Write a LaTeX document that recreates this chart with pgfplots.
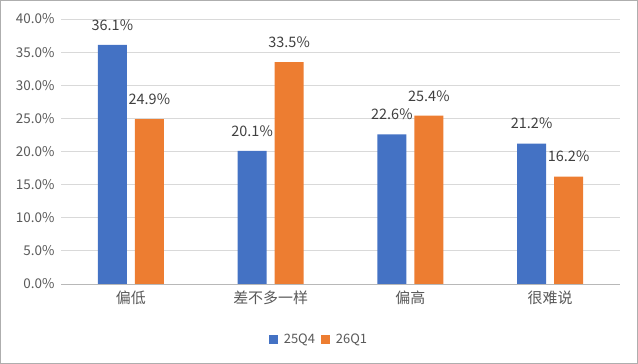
\documentclass[border=0pt]{standalone}
\usepackage{pgfplots}
\pgfplotsset{compat=1.18}
\usepackage{fontspec}
\setmainfont{Noto Sans CJK SC}
\definecolor{cblue}{HTML}{4472C4}
\definecolor{corange}{HTML}{ED7D31}
\definecolor{cgrid}{HTML}{D9D9D9}
\definecolor{ctext}{HTML}{595959}
\definecolor{clabel}{HTML}{404040}
\begin{document}
\begin{tikzpicture}
\path[use as bounding box] (0,0) rectangle (638bp,364bp);
\draw[color=cgrid!80!black, line width=0.8bp] (0.5bp,0.5bp) rectangle (637.5bp,363.5bp);
\begin{axis}[
  at={(61bp,80bp)}, anchor=south west,
  scale only axis, width=559bp, height=265bp,
  xmin=-0.5, xmax=3.5, ymin=0, ymax=40,
  xtick={0,1,2,3}, xticklabels={偏低,差不多一样,偏高,很难说},
  ytick={0,5,...,40},
  /pgf/number format/assume math mode=true,
  yticklabel={\pgfmathprintnumber[fixed,fixed zerofill,precision=1]{\tick}\%},
  yticklabel style={font=\fontsize{13.5}{15}\selectfont, text=ctext, xshift=-3bp},
  xticklabel style={font=\fontsize{15}{17}\selectfont, text=ctext, yshift=-3bp},
  ymajorgrids, grid style={cgrid, line width=0.8bp},
  axis line style={draw=none},
  major tick length=0pt,
  extra y ticks={0}, extra y tick labels={},
  extra y tick style={grid style={color=cgrid!85!black, line width=0.8bp}},
  ybar, bar width=29bp,
  nodes near coords={\pgfmathprintnumber[fixed,fixed zerofill,precision=1]{\pgfplotspointmeta}\%},
  nodes near coords style={font=\fontsize{14.5}{16}\selectfont, text=clabel, yshift=11bp},
  legend style={at={(axis description cs:0.4615,-0.208)}, anchor=center, draw=none, legend columns=2,
    font=\fontsize{13}{15}\selectfont, text=ctext, column sep=4bp},
  legend image code/.code={\fill[#1] (0bp,-4.5bp) rectangle (9bp,4.5bp);},
]
\addplot[fill=cblue, draw=none, bar shift=-18.5bp] coordinates {(0,36.1) (1,20.1) (2,22.6) (3,21.2)};
\addplot[fill=corange, draw=none, bar shift=18.5bp] coordinates {(0,24.9) (1,33.5) (2,25.4) (3,16.2)};
\legend{25Q4,26Q1}
\end{axis}
\end{tikzpicture}
\end{document}
